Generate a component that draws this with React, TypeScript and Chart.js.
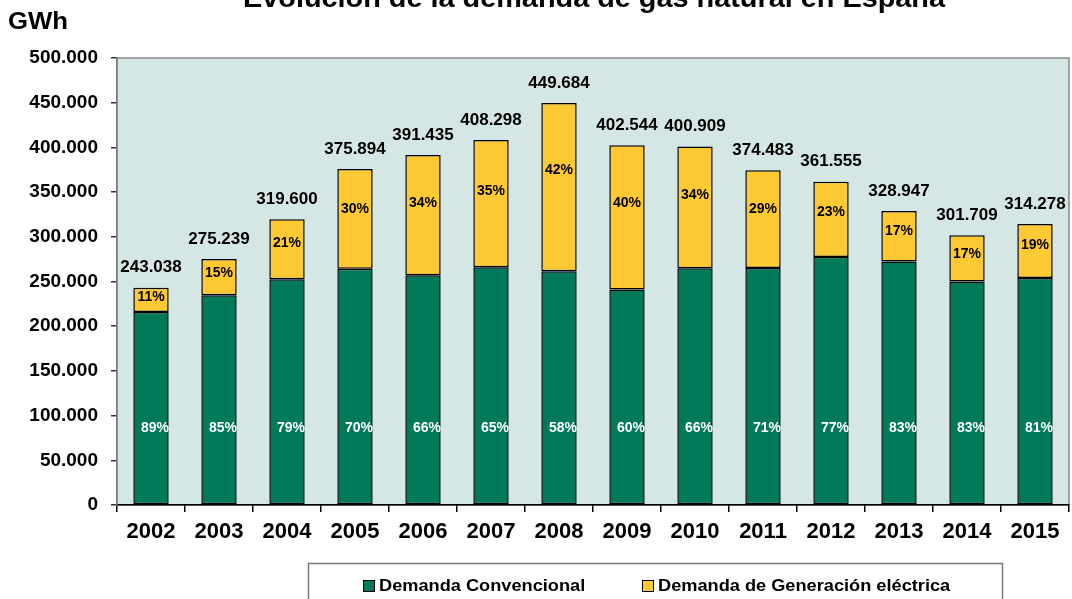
import React, { useEffect, useRef } from "react";
import { Chart, registerables } from "chart.js";

Chart.register(...registerables);

const years = ["2002", "2003", "2004", "2005", "2006", "2007", "2008", "2009", "2010", "2011", "2012", "2013", "2014", "2015"];
const convencional = [215800, 234600, 252500, 264300, 257000, 265900, 261400, 241000, 264700, 265000, 277500, 272400, 250100, 254000];
const generacion = [27238, 40639, 67100, 111594, 134435, 142398, 188284, 161544, 136209, 109483, 84055, 56547, 51609, 60278];
const totales = [243038, 275239, 319600, 375894, 391435, 408298, 449684, 402544, 400909, 374483, 361555, 328947, 301709, 314278];
const pctConvencional = [89, 85, 79, 70, 66, 65, 58, 60, 66, 71, 77, 83, 83, 81];
const pctGeneracion = [11, 15, 21, 30, 34, 35, 42, 40, 34, 29, 23, 17, 17, 19];
const seriesNames = ["Demanda Convencional", "Demanda de Generación eléctrica"];
const titleText = "Evolución de la demanda de gas natural en España";
const unitText = "GWh";

const FONT = "'Liberation Sans', Arial, Helvetica, sans-serif";
const GREEN = "#007a58";
const YELLOW = "#ffc933";
const PLOT_BG = "#d4e7e4";

const fmt = (v: number) => String(Math.round(v)).replace(/\B(?=(\d{3})+(?!\d))/g, ".");

function stretchedText(ctx: any, text: string, x: number, y: number, sx: number) {
  ctx.save();
  ctx.translate(x, y);
  ctx.scale(sx, 1);
  ctx.fillText(text, 0, 0);
  ctx.restore();
}

const decorPlugin = {
  id: "decor",
  beforeDraw(chart: any) {
    const { ctx, chartArea: a } = chart;
    ctx.save();
    ctx.fillStyle = PLOT_BG;
    ctx.fillRect(a.left, a.top, a.right - a.left, a.bottom - a.top);
    ctx.strokeStyle = "#8a8a8a";
    ctx.lineWidth = 1.5;
    ctx.strokeRect(a.left, a.top, a.right - a.left, a.bottom - a.top);
    ctx.restore();
  },
  afterDatasetsDraw(chart: any) {
    const { ctx } = chart;
    const yScale = chart.scales.y;
    const m0 = chart.getDatasetMeta(0);
    const m1 = chart.getDatasetMeta(1);
    ctx.save();
    ctx.textAlign = "center";
    ctx.textBaseline = "middle";
    for (let i = 0; i < years.length; i++) {
      const e0 = m0.data[i];
      const e1 = m1.data[i];
      ctx.fillStyle = "#000";
      ctx.font = `bold 17px ${FONT}`;
      ctx.fillText(fmt(totales[i]), e1.x, e1.y - 20);
      ctx.font = `bold 14px ${FONT}`;
      ctx.fillText(pctGeneracion[i] + "%", e1.x, e1.y + 0.4 * (e1.base - e1.y));
      ctx.fillStyle = "#ffffff";
      ctx.fillText(pctConvencional[i] + "%", e0.x + 4, yScale.getPixelForValue(0) - 77);
    }
    ctx.restore();
  },
  afterDraw(chart: any) {
    const { ctx } = chart;
    ctx.save();
    ctx.fillStyle = "#000";
    ctx.textBaseline = "alphabetic";
    ctx.textAlign = "center";
    ctx.font = `bold 28px ${FONT}`;
    stretchedText(ctx, titleText, 594, 7, 1.03);
    ctx.textAlign = "left";
    ctx.font = `bold 23px ${FONT}`;
    stretchedText(ctx, unitText, 8, 29, 1.12);

    ctx.strokeStyle = "#7a7a7a";
    ctx.lineWidth = 1.5;
    ctx.strokeRect(308.5, 563.5, 694, 60);
    const items = [
      { x: 363, tx: 379, color: GREEN, label: seriesNames[0] },
      { x: 642, tx: 658, color: YELLOW, label: seriesNames[1] },
    ];
    ctx.font = `bold 17px ${FONT}`;
    ctx.textBaseline = "middle";
    for (const it of items) {
      ctx.fillStyle = it.color;
      ctx.fillRect(it.x, 580, 12, 12);
      ctx.strokeStyle = "#000";
      ctx.lineWidth = 1;
      ctx.strokeRect(it.x + 0.5, 580.5, 11, 11);
      ctx.fillStyle = "#000";
      stretchedText(ctx, it.label, it.tx, 586.5, 1.07);
    }
    ctx.restore();
  },
};

export default function App() {
  const ref = useRef<HTMLCanvasElement | null>(null);
  useEffect(() => {
    if (!ref.current) return;
    const chart = new Chart(ref.current, {
      type: "bar",
      data: {
        labels: years,
        datasets: [
          {
            label: seriesNames[0],
            data: convencional,
            backgroundColor: GREEN,
            borderColor: "#000",
            borderWidth: 1.5,
            borderSkipped: false,
            categoryPercentage: 1,
            barPercentage: 0.52,
          },
          {
            label: seriesNames[1],
            data: generacion,
            backgroundColor: YELLOW,
            borderColor: "#000",
            borderWidth: 1.5,
            borderSkipped: false,
            categoryPercentage: 1,
            barPercentage: 0.52,
          },
        ],
      },
      options: {
        animation: false,
        responsive: true,
        maintainAspectRatio: false,
        layout: { padding: { top: 58, right: 3, left: 0, bottom: 0 } },
        plugins: {
          legend: { display: false },
          title: { display: false },
          tooltip: { enabled: false },
        },
        scales: {
          x: {
            stacked: true,
            grid: {
              display: true,
              drawOnChartArea: false,
              drawTicks: true,
              tickLength: 7,
              offset: true,
              color: "#000",
              lineWidth: 1.5,
            },
            border: { display: true, color: "#000", width: 1.5 },
            ticks: {
              color: "#000",
              font: { family: FONT, size: 22, weight: "bold" },
              padding: 7,
              maxRotation: 0,
              autoSkip: false,
            },
            afterFit: (s: any) => {
              s.height = 94;
            },
          },
          y: {
            stacked: true,
            min: 0,
            max: 500000,
            grid: {
              display: true,
              drawOnChartArea: false,
              drawTicks: true,
              tickLength: 6,
              color: "#333",
              lineWidth: 1.5,
            },
            border: { display: true, color: "#7a7a7a", width: 1.5 },
            ticks: {
              stepSize: 50000,
              color: "#000",
              font: { family: FONT, size: 19, weight: "bold" },
              padding: 13,
              callback: (v: any) => fmt(Number(v)),
            },
            afterFit: (s: any) => {
              s.width = 117;
            },
          },
        },
      },
      plugins: [decorPlugin],
    });
    return () => chart.destroy();
  }, []);
  return (
    <div style={{ position: "fixed", left: 0, top: 0, width: 1072, height: 599, background: "#fff" }}>
      <canvas ref={ref} />
    </div>
  );
}
